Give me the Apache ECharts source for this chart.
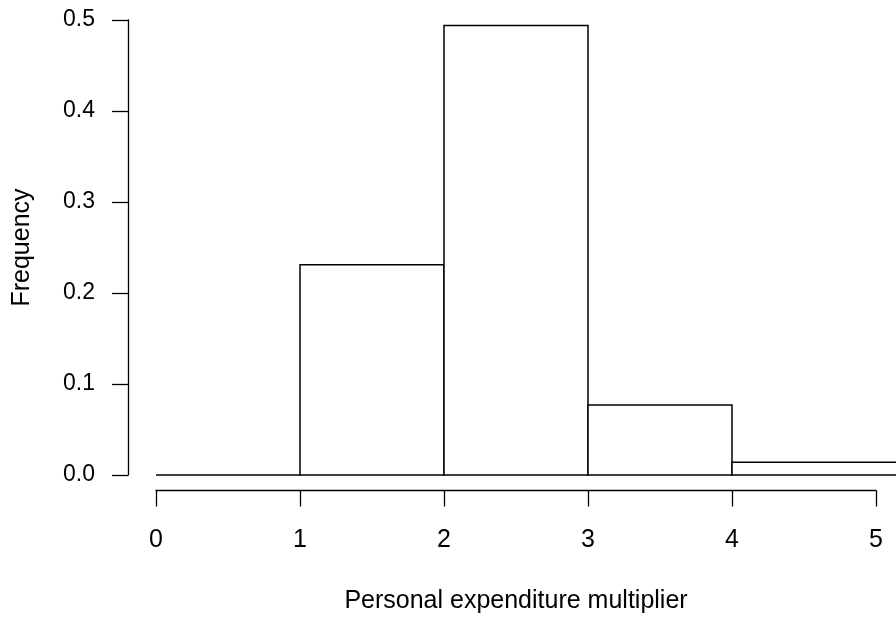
<!DOCTYPE html>
<html>
<head>
<meta charset="utf-8">
<script src="https://cdn.jsdelivr.net/npm/echarts@6/dist/echarts.min.js"></script>
<style>html,body{margin:0;padding:0;background:#fff}#c{width:896px;height:619px}</style>
</head>
<body>
<div id="c"></div>
<script>
// Histogram bins (left edge, right edge) and frequencies
const binStarts = [0, 1, 2, 3, 4];
const binEnds   = [1, 2, 3, 4, 6];
const frequencies = [0, 0.231, 0.494, 0.077, 0.014];
const xTickLabels = ['0', '1', '2', '3', '4', '5'];
const yTickLabels = ['0.0', '0.1', '0.2', '0.3', '0.4', '0.5'];
const xTitle = 'Personal expenditure multiplier';
const yTitle = 'Frequency';

const data = binStarts.map((s, i) => [s, binEnds[i], frequencies[i]]);
const FONT = 'Liberation Sans, Arial, sans-serif';

const chart = echarts.init(document.getElementById('c'), null, {renderer: 'canvas'});
chart.setOption({
  animation: false,
  backgroundColor: '#fff',
  grid: [
    {left: 156, right: 0, top: 20, bottom: 144},
    {left: 156, right: 20, top: 20, bottom: 144}
  ],
  xAxis: [
    {gridIndex: 0, type: 'value', min: 0, max: 740 / 144, show: false},
    {gridIndex: 1, type: 'value', min: 0, max: 5, interval: 1, offset: 17,
     axisLine: {show: true, onZero: false, lineStyle: {color: '#000', width: 1.3}},
     axisTick: {show: true, inside: false, length: 16, lineStyle: {color: '#000', width: 1.3}},
     splitLine: {show: false},
     axisLabel: {show: true, margin: 37, fontSize: 25, lineHeight: 25, fontFamily: FONT, color: '#000',
       formatter: v => xTickLabels[Math.round(v)] },
     name: xTitle, nameLocation: 'middle', nameGap: 111,
     nameTextStyle: {fontSize: 25, fontFamily: FONT, color: '#000', verticalAlign: 'middle'}
    }
  ],
  yAxis: [
    {gridIndex: 0, type: 'value', min: 0, max: 0.5, interval: 0.1, offset: 28, position: 'left',
     axisLine: {show: true, onZero: false, lineStyle: {color: '#000', width: 1.3}},
     axisTick: {show: true, inside: false, length: 16, lineStyle: {color: '#000', width: 1.3}},
     splitLine: {show: false},
     axisLabel: {show: true, margin: 33, fontSize: 23, fontFamily: FONT, color: '#000',
       formatter: v => yTickLabels[Math.round(v * 10)] },
     name: yTitle, nameLocation: 'middle', nameGap: 106,
     nameTextStyle: {fontSize: 25, fontFamily: FONT, color: '#000', verticalAlign: 'middle'}
    },
    {gridIndex: 1, type: 'value', min: 0, max: 0.5, show: false}
  ],
  series: [{
    type: 'custom',
    xAxisIndex: 0, yAxisIndex: 0,
    clip: false,
    data: data,
    renderItem: function (params, api) {
      const p0 = api.coord([api.value(0), api.value(2)]);
      const p1 = api.coord([api.value(1), 0]);
      return {
        type: 'rect',
        shape: {x: p0[0], y: p0[1], width: p1[0] - p0[0], height: p1[1] - p0[1]},
        style: {fill: '#fff', stroke: '#000', lineWidth: 1.5}
      };
    }
  }]
});
</script>
</body>
</html>
